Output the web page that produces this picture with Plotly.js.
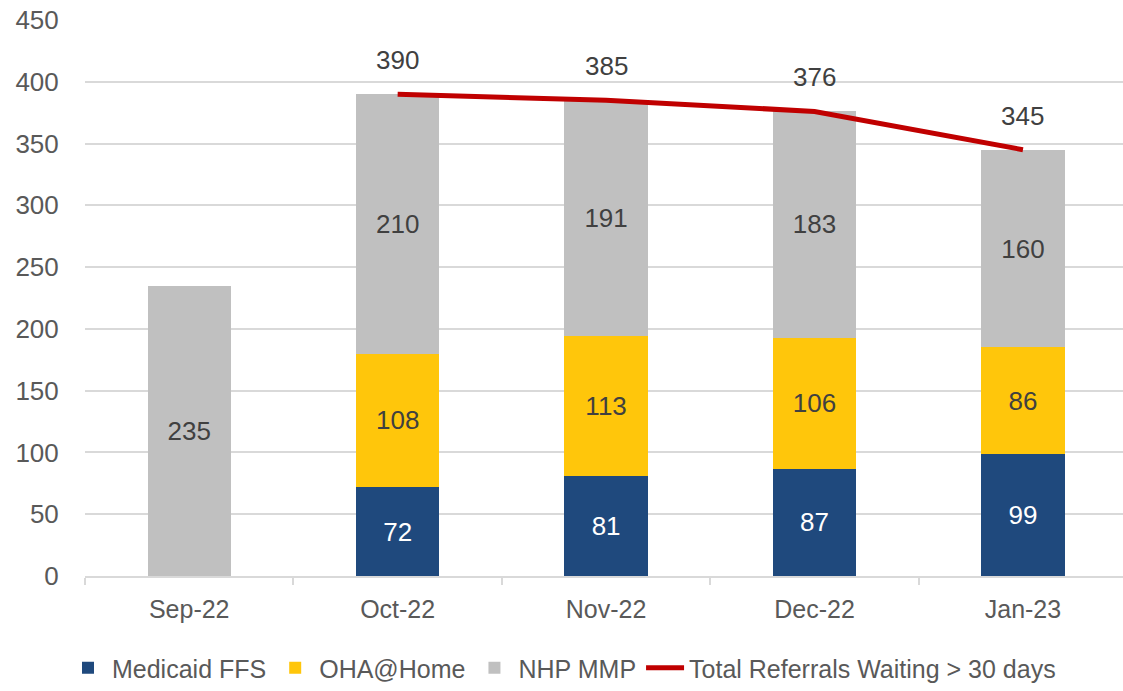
<!DOCTYPE html>
<html>
<head>
<meta charset="utf-8">
<script src="https://cdn.plot.ly/plotly-3.0.1.min.js"></script>
<style>html,body{margin:0;padding:0;background:#fff;}#chart{width:1123px;height:691px;}</style>
</head>
<body>
<div id="chart"></div>
<script>
const months = ["Sep-22", "Oct-22", "Nov-22", "Dec-22", "Jan-23"];
const medicaidFFS = [null, 72, 81, 87, 99];
const ohaAtHome = [null, 108, 113, 106, 86];
const nhpMMP = [235, 210, 191, 183, 160];
const totalWaiting = [null, 390, 385, 376, 345];

const FONT = "Liberation Sans, Arial, sans-serif";
const LEGFONT = "Liberation Sans Narrow, Liberation Sans, Arial, sans-serif";

function barTrace(name, vals, color, txtColor) {
  return {
    type: "bar", name: name, x: months, y: vals,
    marker: { color: color },
    width: 0.4,
    text: vals.map(v => v == null ? "" : String(v)),
    textposition: "inside", insidetextanchor: "middle", textangle: 0,
    constraintext: "none",
    insidetextfont: { family: FONT, size: 26, color: txtColor },
    hoverinfo: "x+y+name"
  };
}

const traces = [
  barTrace("Medicaid FFS", medicaidFFS, "#1F497D", "#FFFFFF"),
  barTrace("OHA@Home", ohaAtHome, "#FFC60B", "#404040"),
  barTrace("NHP MMP", nhpMMP, "#C0C0C0", "#404040"),
  {
    type: "scatter", mode: "lines", name: "Total Referrals Waiting > 30 days",
    x: months, y: totalWaiting, connectgaps: false,
    line: { color: "#C00000", width: 5 }
  }
];

const annotations = months.map((m, i) => totalWaiting[i] == null ? null : ({
  x: m, y: totalWaiting[i], xref: "x", yref: "y",
  text: String(totalWaiting[i]), showarrow: false, yshift: 34,
  font: { family: FONT, size: 26, color: "#404040" }
})).filter(a => a);

const layout = {
  width: 1123, height: 691,
  margin: { l: 85, r: 0, t: 20, b: 0 },
  paper_bgcolor: "#fff", plot_bgcolor: "#fff",
  barmode: "stack",
  showlegend: true,
  font: { family: FONT, size: 26, color: "#595959" },
  xaxis: {
    type: "category", range: [-0.5, 4.48],
    showline: true, linecolor: "#D9D9D9", linewidth: 2,
    ticks: "outside", tickson: "boundaries", ticklen: 7, tickcolor: "#D9D9D9", tickwidth: 2,
    ticklabelstandoff: 10,
    tickfont: { family: FONT, size: 25, color: "#595959" },
    showgrid: false, zeroline: false
  },
  yaxis: {
    domain: [115 / 671, 1],
    range: [0, 450], dtick: 50, tick0: 0,
    showgrid: true, gridcolor: "#D9D9D9", gridwidth: 2,
    zeroline: false, showline: false,
    ticks: "outside", ticklen: 20, tickcolor: "rgba(0,0,0,0)",
    tickfont: { family: FONT, size: 26, color: "#595959" }
  },
  legend: {
    orientation: "h", x: 0.46, xanchor: "center", y: 0, yanchor: "bottom",
    traceorder: "normal",
    font: { family: LEGFONT, size: 25, color: "#595959" },
    itemwidth: 38
  },
  annotations: annotations
};

Plotly.newPlot("chart", traces, layout, { displayModeBar: false, staticPlot: true });
</script>
</body>
</html>
